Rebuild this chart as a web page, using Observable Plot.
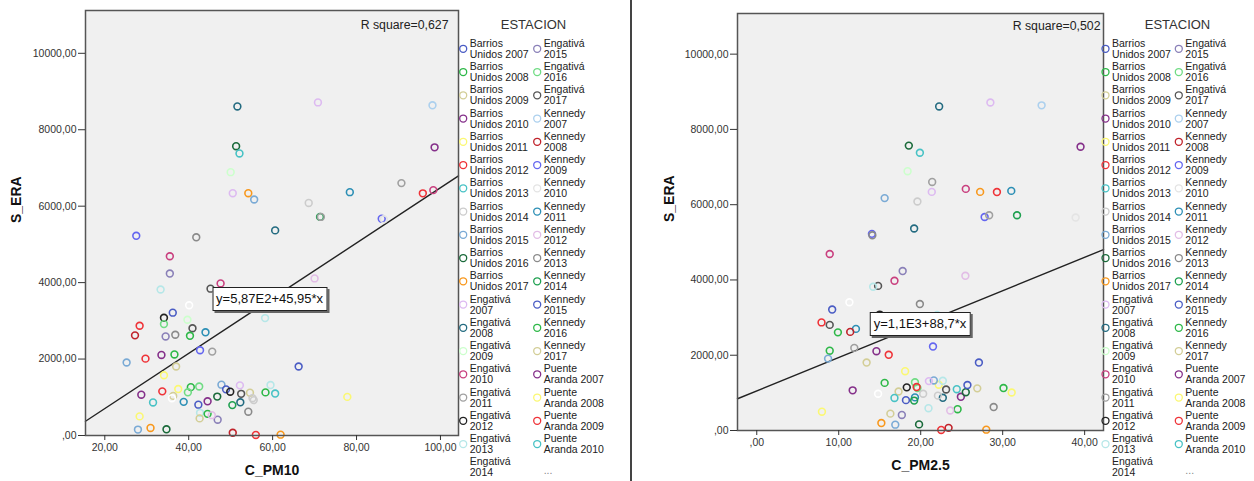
<!DOCTYPE html>
<html><head><meta charset="utf-8">
<script src="https://cdn.jsdelivr.net/npm/d3@7"></script>
<script src="https://cdn.jsdelivr.net/npm/@observablehq/plot@0.6"></script>
<style>
body{margin:0;background:#fff;font-family:"Liberation Sans",Arial,sans-serif;}
#wrap{position:relative;width:1254px;height:481px;overflow:hidden;background:#fff;}
#wrap svg{position:absolute;top:0;}
.eq{position:absolute;background:#fff;border:1px solid #222;box-shadow:2px 2px 0 #666;font:13px "Liberation Sans",Arial,sans-serif;color:#111;padding:3px 3px;line-height:16px;white-space:nowrap;transform:translate(-50%,-50%);}
.divider{position:absolute;left:630px;top:0;width:1.5px;height:481px;background:#444;}
</style></head><body><div id="wrap"></div>
<script>
// ---------- DATA ----------
const categories = [
 "Barrios Unidos 2007","Barrios Unidos 2008","Barrios Unidos 2009","Barrios Unidos 2010","Barrios Unidos 2011","Barrios Unidos 2012","Barrios Unidos 2013","Barrios Unidos 2014","Barrios Unidos 2015","Barrios Unidos 2016","Barrios Unidos 2017",
 "Engativá 2007","Engativá 2008","Engativá 2009","Engativá 2010","Engativá 2011","Engativá 2012","Engativá 2013","Engativá 2014","Engativá 2015","Engativá 2016","Engativá 2017",
 "Kennedy 2007","Kennedy 2008","Kennedy 2009","Kennedy 2010","Kennedy 2011","Kennedy 2012","Kennedy 2013","Kennedy 2014","Kennedy 2015","Kennedy 2016","Kennedy 2017",
 "Puente Aranda 2007","Puente Aranda 2008","Puente Aranda 2009","Puente Aranda 2010","Puente Aranda 2011","Puente Aranda 2012","Puente Aranda 2013","Puente Aranda 2014","Puente Aranda 2015","Puente Aranda 2016","Puente Aranda 2017"
];
const palette = ["#4a5cc4","#2EB848","#D3CE97","#85308a","#FBF873","#EF3338","#48C2C5","#CCCCCC","#7AAAD5","#1a6a3a",
 "#F8981D","#DDBAF1","#236b80","#CCFFCC","#C9407F","#A0A0A0","#222222","#B6E7E8","#FFFFFF","#8a80b8",
 "#70DC84","#555555","#ACD0EE","#C0222A","#6466F0","#E4E4E4","#2C8FB5","#E2BDE6","#8A8A8A","#1FA050"];

const pointCategory = [12,11,22,9,6,33,13,41,10,8,7,26,15,35,14,29,24,42,24,28,15,25,
 14,19,14,21,17,27,18,28,0,16,43,17,5,20,21,26,23,19,28,1,24,15,5,3,31,38,2,30,4,
 34,1,20,20,32,35,3,36,4,8,40,39,26,30,33,17,2,31,19,9,38,0,16,11,21,32,12,37,28,29,1,17,36,34,23,5,10,18,7,27];
const pm10 = [51.6,70.8,98.1,51.3,52.1,98.6,50.0,50.5,54.2,55.6,68.6,78.4,90.7,95.8,98.3,71.3,86.0,60.6,27.5,41.8,71.5,86.5,
 35.5,35.5,47.6,45.2,33.3,70.0,40.1,55.0,36.2,34.1,39.7,58.2,28.3,34.1,40.9,44.0,27.2,34.5,36.8,40.3,42.7,45.6,29.7,33.5,36.6,25.2,37.0,66.2,34.1,
 37.5,40.5,42.5,39.8,36.3,33.7,28.7,31.5,28.3,27.9,30.9,34.7,38.8,42.3,44.5,42.7,42.6,44.5,46.9,46.8,47.8,48.9,49.9,52.2,52.5,54.6,52.3,55.5,54.2,50.4,58.3,59.5,60.6,77.8,50.5,56.0,61.9,36.0,55.2,45.5];
const pm25 = [22.25,28.5,34.75,18.55,19.9,39.5,18.4,21.35,27.25,15.6,19.6,31.05,21.4,29.3,25.5,31.75,27.8,19.2,14.05,14.1,28.35,38.9,
 8.9,17.8,16.8,14.8,14.2,25.45,11.3,19.9,9.2,15.0,18.0,22.0,7.9,20.5,8.9,12.1,11.4,17.0,23.0,9.9,21.5,11.9,16.1,14.6,8.9,8.7,13.4,27.1,18.1,
 22.2,15.6,19.3,19.6,17.3,19.5,11.7,16.8,7.95,16.9,15.2,19.8,19.3,18.2,24.9,20.95,16.3,24.5,17.7,25.5,21.6,25.7,18.3,21.0,23.1,26.9,22.7,22.1,28.9,19.2,30.1,22.7,24.4,31.1,23.4,22.5,28.0,14.8,20.3,23.6];
const sEra = [8610,8715,8640,7570,7380,7540,6890,6340,6340,6175,6085,6367,6604,6336,6420,5720,5673,5367,5225,5186,5719,5658,
 4690,4237,3978,3842,3820,4110,3408,3360,3214,3080,3028,3072,2872,2915,2806,2700,2620,2592,2636,2608,2230,2195,2011,2107,2120,1910,1805,1805,1576,
 1215,1265,1282,1130,1036,1155,1067,865,500,155,198,162,880,807,895,593,448,566,413,1018,1330,1207,1146,1312,1090,1120,869,926,623,795,1128,1320,1097,1010,70,14,22,976,976,532];

const yTicks = [0,2000,4000,6000,8000,10000];
const xTicksPM10 = [20,40,60,80,100];
const xTicksPM25 = [0,10,20,30,40];
const fitPM10 = [-739, 72.2];     // intercept, slope of drawn line
const fitPM25 = [1052, 88.76];
const eqLabels = ["y=5,87E2+45,95*x","y=1,1E3+88,7*x"];
const eqAtX = [59.4, 19.98];
const rSquare = ["R square=0,627","R square=0,502"];
const axisLabels = {y: "S_ERA", x10: "C_PM10", x25: "C_PM2.5"};
const legendTitle = "ESTACION";
const legendShown = 37;

// ---------- DRAW ----------
const FONT = '"Liberation Sans", Arial, sans-serif';
const wrap = document.getElementById("wrap");
const catColors = categories.map((_, i) => palette[i % palette.length]);
const colorScale = {domain: categories, range: catColors};
const fmt = d => d.toFixed(2).replace(".", ",").replace(/^0,/, ",");

function panel(o) {
  const rows = pointCategory.map((c, i) => ({x: o.xv[i], y: sEra[i], c: categories[c]}));
  const [a, b] = o.fit;
  const linePts = o.xDomain.map(x => ({x, y: a + b * x}));
  const chart = Plot.plot({
    width: o.width, height: 481,
    marginLeft: o.ml, marginRight: o.mr, marginTop: o.mt, marginBottom: o.mb,
    x: {domain: o.xDomain}, y: {domain: o.yDomain},
    color: colorScale,
    style: {fontFamily: FONT, fontSize: "10.5px", background: "transparent", color: "#333"},
    marks: [
      Plot.frame({fill: "#f0f0f0", stroke: "none"}),
      Plot.line(linePts, {x: "x", y: "y", stroke: "#222", strokeWidth: 1.4}),
      Plot.dot(rows, {x: "x", y: "y", r: 3.4, stroke: "c", strokeWidth: 1.6, fill: "none"}),
      Plot.frame({stroke: "#555", strokeWidth: 1.5}),
      Plot.axisY({ticks: yTicks, tickFormat: fmt, tickSize: 7, tickPadding: 2, label: null, color: "#333"}),
      Plot.axisX({ticks: o.xTicks, tickFormat: fmt, tickSize: 5, tickPadding: 3, label: null, color: "#333"}),
      Plot.text([o.r2], {frameAnchor: "top-right", text: d => d, dx: o.r2dx, dy: o.r2dy, lineAnchor: "middle", textAnchor: "end", fontSize: 12.3, fill: "#222"}),
      Plot.text([axisLabels.y], {frameAnchor: "left", text: d => d, rotate: -90, dx: o.ylabDx, fontWeight: "bold", fontSize: 14, fill: "#111"}),
      Plot.text([o.xLabel], {frameAnchor: "bottom", text: d => d, dy: 35, lineAnchor: "middle", fontWeight: "bold", fontSize: 14, fill: "#111"})
    ]
  });
  chart.style.left = o.left + "px";
  wrap.appendChild(chart);
  const px = chart.scale("x").apply(o.eqX);
  const py = chart.scale("y").apply(a + b * o.eqX);
  const box = document.createElement("div");
  box.className = "eq";
  box.textContent = o.eq;
  box.style.left = (o.left + px) + "px";
  box.style.top = py + "px";
  wrap.appendChild(box);
}

function legend(o) {
  const items = categories.slice(0, legendShown).map((name, i) => {
    const sp = name.indexOf(" ");
    return {name, label: name.slice(0, sp) + "\n" + name.slice(sp + 1), col: i < 19 ? 0 : 1, row: i < 19 ? i : i - 19};
  });
  const chart = Plot.plot({
    width: o.width, height: 481, margin: 0,
    x: {domain: [0, 1], range: [o.c1, o.c2]},
    y: {domain: [0, 18], range: [48.3, 48.3 + 18 * 23.25]},
    color: colorScale,
    axis: null,
    style: {fontFamily: FONT, background: "transparent"},
    marks: [
      Plot.dot(items, {x: "col", y: "row", r: 3.5, stroke: "name", strokeWidth: 1.3, fill: "none"}),
      Plot.text(items, {x: "col", y: "row", text: "label", dx: 6.5, textAnchor: "start", lineAnchor: "middle", lineHeight: 1.05, fontSize: 10.5, fill: "#222"}),
      Plot.text([{col: 1, row: 18, t: "..."}], {x: "col", y: "row", text: "t", dx: 6.5, dy: 3, textAnchor: "start", lineAnchor: "middle", fontSize: 10.5, fill: "#888"}),
      Plot.text([legendTitle], {frameAnchor: "top-left", text: d => d, dx: o.tx, dy: 24, textAnchor: "middle", lineAnchor: "middle", fontSize: 13, fill: "#333"})
    ]
  });
  chart.style.left = o.left + "px";
  wrap.appendChild(chart);
}

panel({xv: pm10, xDomain: [15.4, 104.3], yDomain: [0, 11120], xTicks: xTicksPM10, xLabel: axisLabels.x10,
  fit: fitPM10, eq: eqLabels[0], eqX: eqAtX[0], r2: rSquare[0], r2dx: -10, r2dy: 15, ylabDx: -69,
  width: 470, left: 0, ml: 85, mr: 12, mt: 10, mb: 46});
panel({xv: pm25, xDomain: [-2.35, 42.3], yDomain: [0, 11080], xTicks: xTicksPM25, xLabel: axisLabels.x25,
  fit: fitPM25, eq: eqLabels[1], eqX: eqAtX[1], r2: rSquare[1], r2dx: -3, r2dy: 13, ylabDx: -68,
  width: 480, left: 631, ml: 106, mr: 8, mt: 13, mb: 51});
legend({left: 450, width: 180, c1: 12.7, c2: 86.7, tx: 83});
legend({left: 1095, width: 159, c1: 10, c2: 83.3, tx: 82});

const div = document.createElement("div");
div.className = "divider";
wrap.appendChild(div);
</script>
</body></html>
